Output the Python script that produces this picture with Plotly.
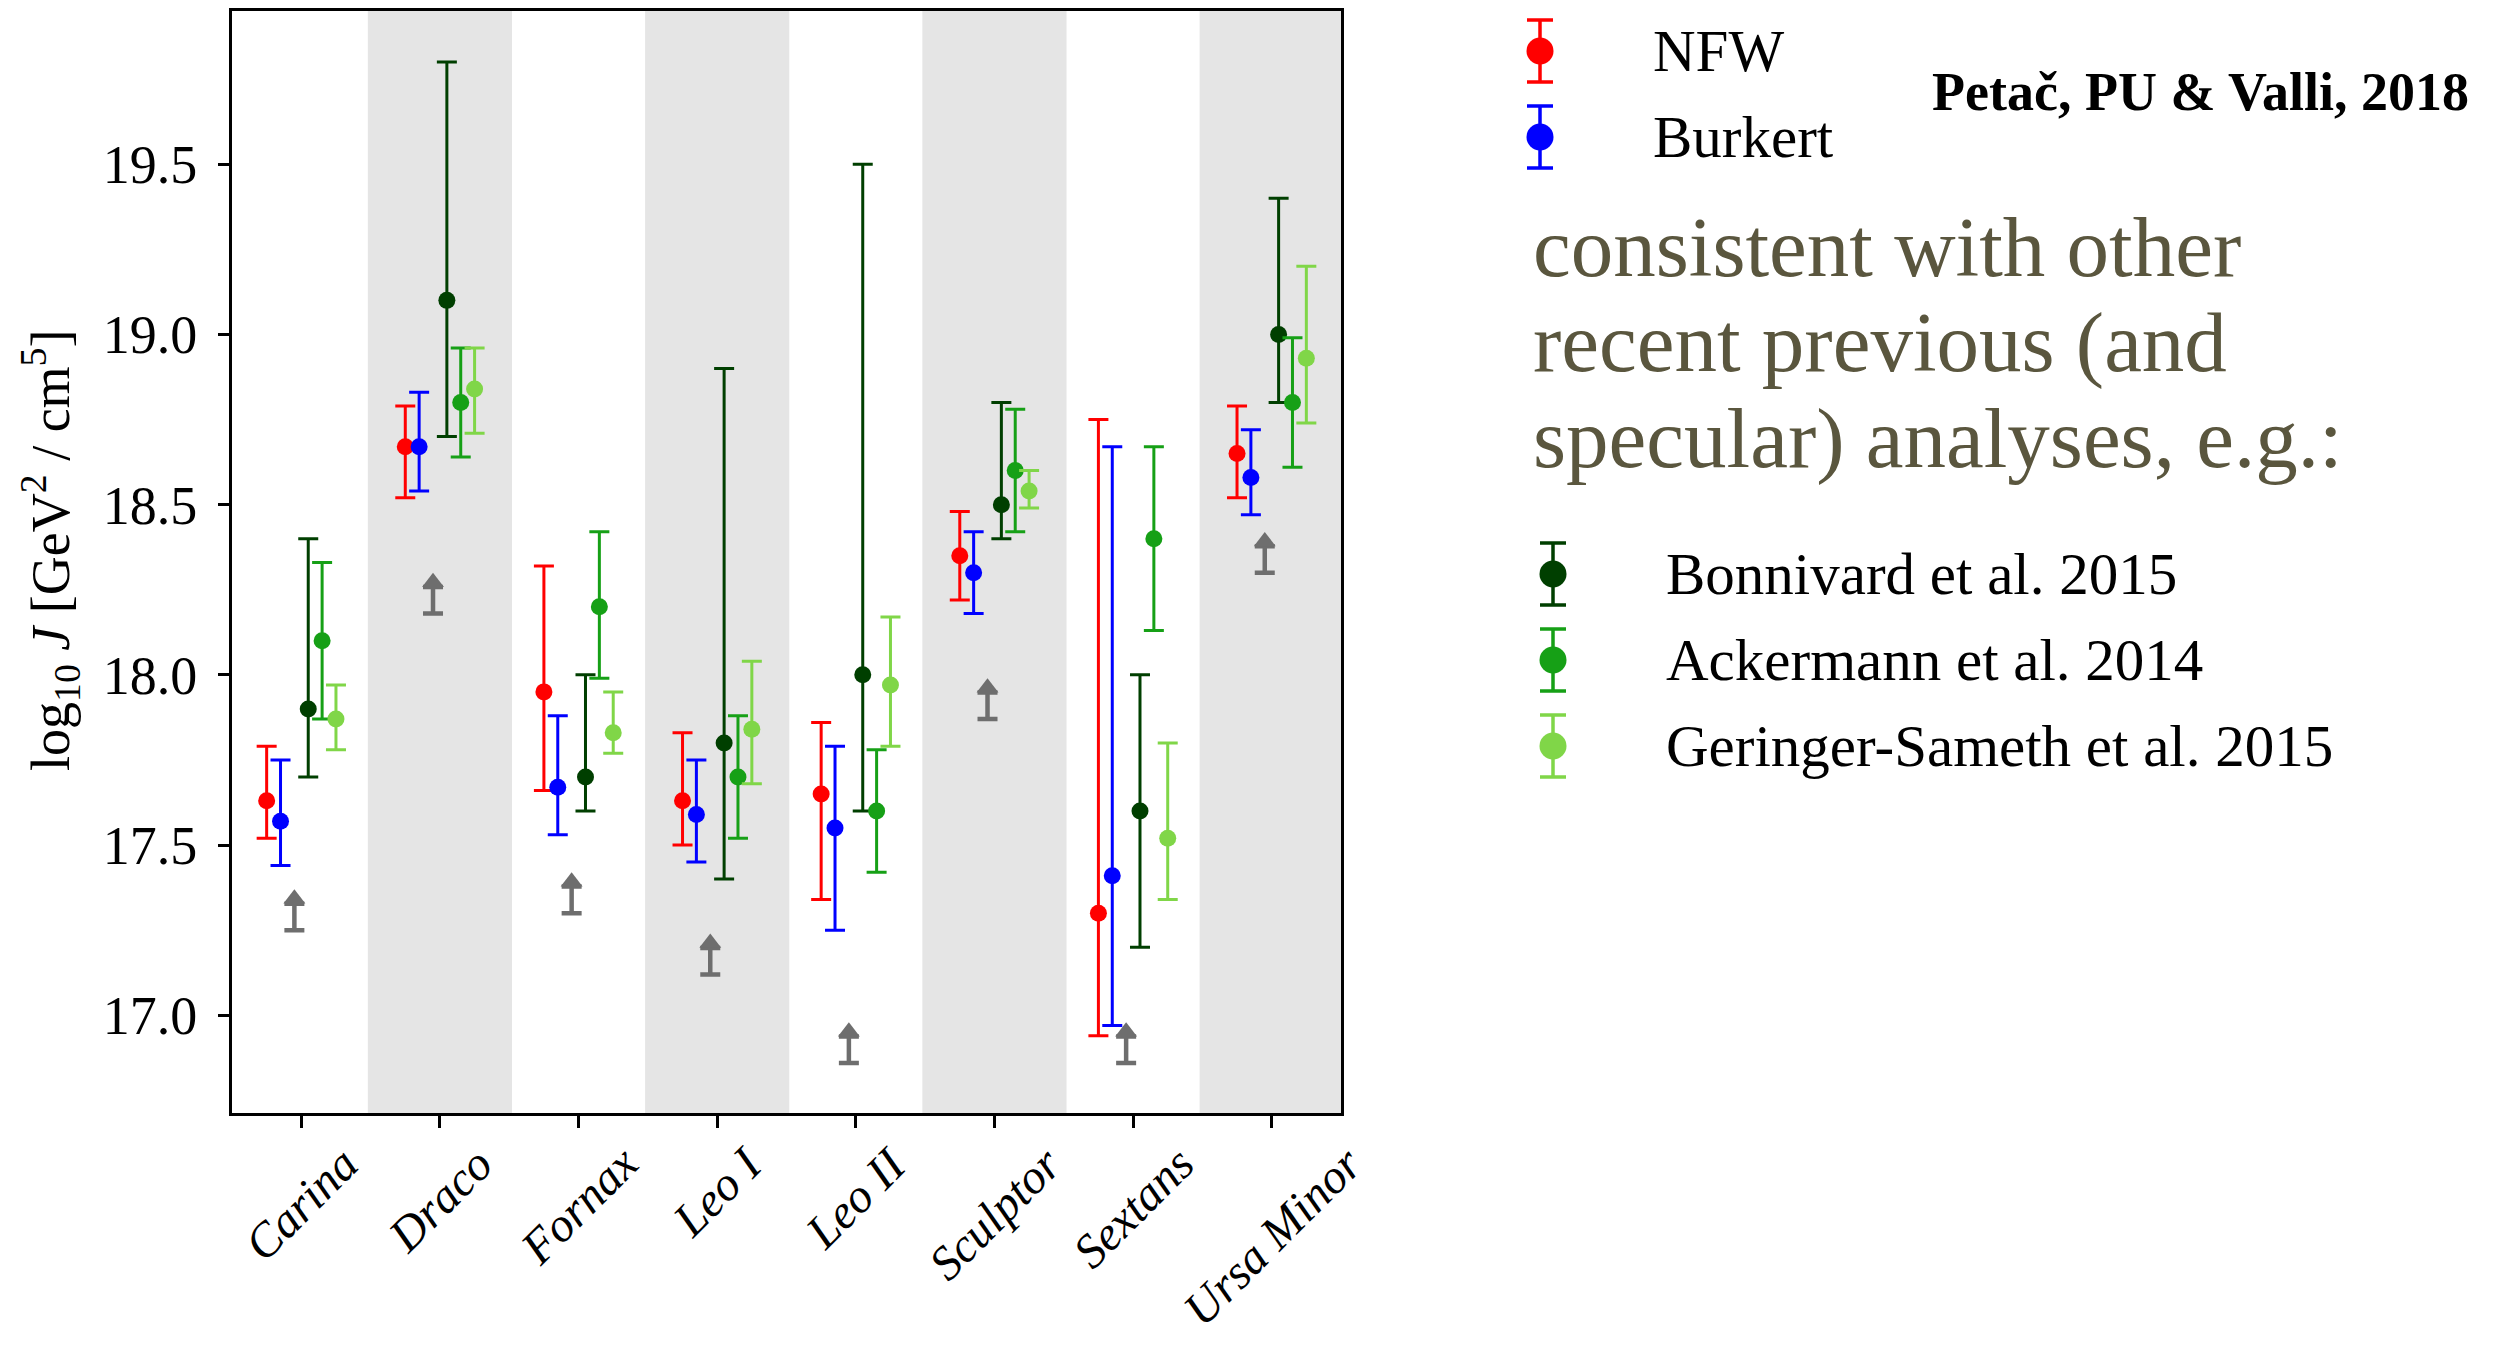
import plotly.graph_objects as go

# ---------------------------------------------------------------- data
galaxies = ["Carina", "Draco", "Fornax", "Leo I", "Leo II", "Sculptor", "Sextans", "Ursa Minor"]

# log10 J values with lower / upper ends of the error bars
nfw_val = [17.63, 18.67, 17.95, 17.63, 17.65, 18.35, 17.30, 18.65]
nfw_lo = [17.52, 18.52, 17.66, 17.50, 17.34, 18.22, 16.94, 18.52]
nfw_hi = [17.79, 18.79, 18.32, 17.83, 17.86, 18.48, 18.75, 18.79]

burkert_val = [17.57, 18.67, 17.67, 17.59, 17.55, 18.30, 17.41, 18.58]
burkert_lo = [17.44, 18.54, 17.53, 17.45, 17.25, 18.18, 16.97, 18.47]
burkert_hi = [17.75, 18.83, 17.88, 17.75, 17.79, 18.42, 18.67, 18.72]

bonnivard_val = [17.90, 19.10, 17.70, 17.80, 18.00, 18.50, 17.60, 19.00]
bonnivard_lo = [17.70, 18.70, 17.60, 17.40, 17.60, 18.40, 17.20, 18.80]
bonnivard_hi = [18.40, 19.80, 18.00, 18.90, 19.50, 18.80, 18.00, 19.40]

ackermann_val = [18.10, 18.80, 18.20, 17.70, 17.60, 18.60, 18.40, 18.80]
ackermann_lo = [17.87, 18.64, 17.99, 17.52, 17.42, 18.42, 18.13, 18.61]
ackermann_hi = [18.33, 18.96, 18.42, 17.88, 17.78, 18.78, 18.67, 18.99]

geringer_val = [17.87, 18.84, 17.83, 17.84, 17.97, 18.54, 17.52, 18.93]
geringer_lo = [17.78, 18.71, 17.77, 17.68, 17.79, 18.49, 17.34, 18.74]
geringer_hi = [17.97, 18.96, 17.95, 18.04, 18.17, 18.60, 17.80, 19.20]

# lower limits (drawn as upward arrows)
lower_limits = [17.25, 18.18, 17.30, 17.12, 16.86, 17.87, 16.86, 18.30]

y_ticks = [17.0, 17.5, 18.0, 18.5, 19.0, 19.5]

# ---------------------------------------------------------------- style
W, H = 2509, 1346
M_L, M_R, M_T, M_B = 232, 0, 11, 233
PW = W - M_L - M_R
PH = H - M_T - M_B
PLOT_RIGHT = 1341          # right edge of the main frame, px
SIDE_LEFT = 1440           # left edge of the side panel axis, px

SERIF = "Liberation Serif"
GRAY = "#6e6e6e"
BAND = "#e5e5e5"
NOTE_COLOR = "#5a563e"

X_MIN, X_MAX = -0.5, 7.5
Y_MIN, Y_MAX = 16.713, 19.95
BAND_HALF = 0.52
ARROW_LEN = 0.092          # arrow length above each lower limit (data units)
ARROW_CAP = 0.078          # stem length up to the arrow head base

series = [
    ("NFW", nfw_val, nfw_lo, nfw_hi, "#ff0000", -0.25),
    ("Burkert", burkert_val, burkert_lo, burkert_hi, "#0000ff", -0.15),
    ("Bonnivard et al. 2015", bonnivard_val, bonnivard_lo, bonnivard_hi, "#003f00", 0.05),
    ("Ackermann et al. 2014", ackermann_val, ackermann_lo, ackermann_hi, "#16a016", 0.15),
    ("Geringer-Sameth et al. 2015", geringer_val, geringer_lo, geringer_hi, "#80d648", 0.25),
]
ARROW_OFFSET = -0.05

# key rows of the side panel: (series index, icon x px, icon y px, text x px)
key_rows = [
    (0, 1540, 51, 1651),
    (1, 1540, 137, 1651),
    (2, 1553, 574, 1664),
    (3, 1553, 660, 1664),
    (4, 1553, 746, 1664),
]


def paper_y(px):
    """Convert a pixel row (from the top of the figure) into paper units."""
    return (M_T + PH - px) / PH


def paper_x(px):
    return (px - M_L) / PW


fig = go.Figure()

idx = list(range(len(galaxies)))

# alternating shaded columns
for i in idx:
    if i % 2 == 1:
        fig.add_shape(
            type="rect", xref="x", yref="y domain",
            x0=max(i - BAND_HALF, X_MIN), x1=min(i + BAND_HALF, X_MAX), y0=0, y1=1,
            fillcolor=BAND, line=dict(width=0), layer="below",
        )

# lower-limit arrows: stem with bottom cap, then the head
fig.add_trace(go.Scatter(
    x=[i + ARROW_OFFSET for i in idx], y=lower_limits, mode="markers",
    marker=dict(size=1, color="rgba(0,0,0,0)"),
    error_y=dict(type="data", symmetric=False, array=[ARROW_CAP] * len(idx),
                 arrayminus=[0] * len(idx), color=GRAY, thickness=4.5, width=10),
    showlegend=False, hoverinfo="skip", xaxis="x", yaxis="y",
))
fig.add_trace(go.Scatter(
    x=[i + ARROW_OFFSET for i in idx], y=[v + ARROW_LEN for v in lower_limits],
    mode="markers", marker=dict(symbol="triangle-up", size=19, color=GRAY),
    showlegend=False, hoverinfo="skip", xaxis="x", yaxis="y",
))

# measurements with asymmetric error bars
for name, val, lo, hi, color, off in series:
    fig.add_trace(go.Scatter(
        x=[i + off for i in idx], y=val, mode="markers", name=name,
        marker=dict(size=17, color=color),
        error_y=dict(type="data", symmetric=False,
                     array=[h - v for h, v in zip(hi, val)],
                     arrayminus=[v - l for v, l in zip(val, lo)],
                     color=color, thickness=3, width=10),
        showlegend=False, xaxis="x", yaxis="y",
    ))

# side-panel keys (drawn on a hidden pixel-scaled axis)
annotations = []
for k, ix, iy, tx in key_rows:
    name, _, _, _, color, _ = series[k]
    fig.add_trace(go.Scatter(
        x=[ix], y=[iy], mode="markers", marker=dict(size=27, color=color),
        error_y=dict(type="data", array=[31], color=color, thickness=3.5, width=13),
        showlegend=False, hoverinfo="skip", xaxis="x2", yaxis="y2",
    ))
    annotations.append(dict(
        x=tx, y=iy, xref="x2", yref="y2", text=name, showarrow=False,
        xanchor="left", yanchor="middle", font=dict(family=SERIF, size=59, color="black"),
    ))

annotations.append(dict(
    x=1930, y=92, xref="x2", yref="y2", text="<b>Petač, PU &amp; Valli, 2018</b>",
    showarrow=False, xanchor="left", yanchor="middle",
    font=dict(family=SERIF, size=54, color="black"),
))

note_lines = ["consistent with other", "recent previous (and", "specular) analyses, e.g.:"]
for line, yb in zip(note_lines, [247, 342, 438]):
    annotations.append(dict(
        x=1531, y=yb, xref="x2", yref="y2", text=line, showarrow=False,
        xanchor="left", yanchor="middle", font=dict(family=SERIF, size=85, color=NOTE_COLOR),
    ))

# rotated category labels, centred under their ticks
for i, g in zip(idx, galaxies):
    annotations.append(dict(
        x=i, y=paper_y(1134), xref="x", yref="paper", text=f"<i>{g}</i>", showarrow=False,
        textangle=-45, xanchor="center", yanchor="top",
        font=dict(family=SERIF, size=48, color="black"),
    ))

# y-axis title
annotations.append(dict(
    x=paper_x(50), y=paper_y(550), xref="paper", yref="paper",
    text="log<sub>10</sub> <i>J</i> [GeV<sup>2</sup> / cm<sup>5</sup>]",
    showarrow=False, textangle=-90, xanchor="center", yanchor="middle",
    font=dict(family=SERIF, size=54, color="black"),
))

fig.update_layout(
    width=W, height=H,
    margin=dict(l=M_L, r=M_R, t=M_T, b=M_B, pad=0),
    paper_bgcolor="white", plot_bgcolor="white",
    showlegend=False,
    font=dict(family=SERIF, color="black"),
    xaxis=dict(
        domain=[0, (PLOT_RIGHT - M_L) / PW], range=[X_MIN, X_MAX], anchor="y",
        tickvals=idx, showticklabels=False, ticks="outside", ticklen=12, tickwidth=3,
        tickcolor="black", showline=True, linewidth=3, linecolor="black", mirror=True,
        showgrid=False, zeroline=False,
    ),
    yaxis=dict(
        domain=[0, 1], range=[Y_MIN, Y_MAX], anchor="x",
        tickvals=y_ticks, tickformat=".1f", ticks="outside", ticklen=11, tickwidth=3,
        tickcolor="black", ticklabelstandoff=10, tickfont=dict(family=SERIF, size=54),
        showline=True, linewidth=3, linecolor="black", mirror=True,
        showgrid=False, zeroline=False,
    ),
    xaxis2=dict(
        domain=[(SIDE_LEFT - M_L) / PW, 1], range=[SIDE_LEFT, W], anchor="y2",
        visible=False, fixedrange=True,
    ),
    yaxis2=dict(
        domain=[0, 1], range=[M_T + PH, M_T], anchor="x2",
        visible=False, fixedrange=True,
    ),
    annotations=annotations,
)

fig.write_html("out.html")
